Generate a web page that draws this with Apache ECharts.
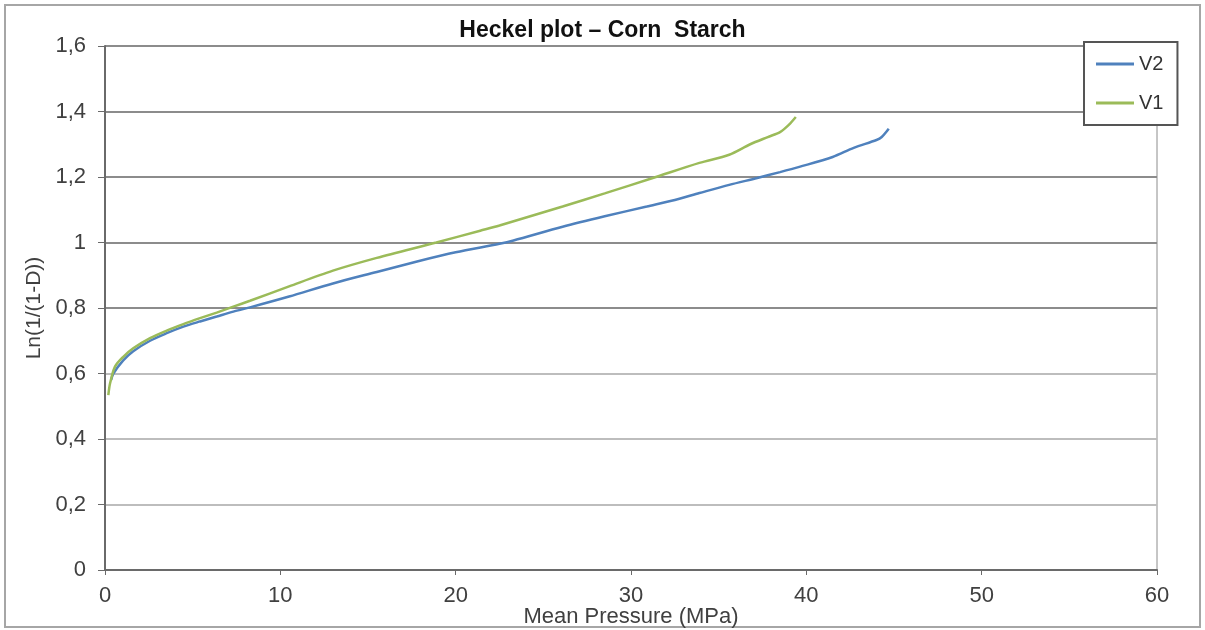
<!DOCTYPE html>
<html>
<head>
<meta charset="utf-8">
<script src="https://cdn.jsdelivr.net/npm/echarts@6/dist/echarts.min.js"></script>
<style>
  html, body { margin: 0; padding: 0; background: #fff; }
  #chart { width: 1205px; height: 630px; }
</style>
</head>
<body>
<div id="chart"></div>
<script>
// Mean pressure (MPa) / Ln(1/(1-D)) pairs
const v2Points = [
  [0.35, 0.58], [0.48, 0.60], [1.04, 0.64], [1.61, 0.668], [2.57, 0.700],
  [3.52, 0.723], [4.47, 0.743], [5.42, 0.759], [6.37, 0.774], [7.32, 0.789],
  [8.27, 0.802], [10.5, 0.835], [13.0, 0.875], [15.5, 0.910], [17.8, 0.942],
  [20.0, 0.970], [22.5, 0.996], [23.3, 1.006], [26.1, 1.048], [28.5, 1.080],
  [30.9, 1.110], [32.5, 1.130], [33.9, 1.151], [35.6, 1.176], [37.2, 1.197],
  [38.5, 1.215], [39.6, 1.231], [41.5, 1.261], [42.7, 1.289], [44.0, 1.313],
  [44.3, 1.322], [44.7, 1.347]
]
const v1Points = [
  [0.19, 0.534], [0.29, 0.57], [0.57, 0.621], [1.04, 0.651], [1.61, 0.677],
  [2.57, 0.708], [3.52, 0.731], [4.47, 0.751], [5.42, 0.769], [6.37, 0.786],
  [7.32, 0.804], [8.27, 0.822], [10.5, 0.866], [13.0, 0.914], [15.5, 0.953],
  [18.9, 1.0], [21.4, 1.036], [22.5, 1.052], [26.1, 1.110], [28.5, 1.150],
  [31.2, 1.196], [33.9, 1.243], [35.6, 1.268], [36.8, 1.300], [37.8, 1.322],
  [38.5, 1.337], [39.0, 1.359], [39.4, 1.383]
]
const seriesNames = ['V2', 'V1']
const seriesColors = ['#4f81bd', '#9bbb59']

// lower grid lines are lighter than the upper ones in the original
const gridColors = ['#bdbdbd', '#bdbdbd', '#bdbdbd', '#bdbdbd', '#8c8c8c', '#8c8c8c', '#8c8c8c', '#8c8c8c', '#8c8c8c']

function commaNum(v) {
  return Number.isInteger(v) ? String(v) : v.toFixed(1).replace('.', ',')
}

const chart = echarts.init(document.getElementById('chart'))
chart.setOption({
  animation: false,
  textStyle: { fontFamily: 'Liberation Sans, Arial, sans-serif' },
  title: {
    text: 'Heckel plot \u2013 Corn  Starch',
    left: 'center',
    top: 14,
    textStyle: { fontSize: 23, fontWeight: 'bold', color: '#111' }
  },
  graphic: [
    {
      type: 'rect',
      shape: { x: 5, y: 5, width: 1195, height: 622 },
      style: { fill: 'none', stroke: '#a6a6a6', lineWidth: 2 },
      silent: true,
      z: -1
    }
  ],
  legend: {
    orient: 'vertical',
    left: 1084,
    top: 42,
    padding: [12, 14, 12, 12],
    icon: 'rect',
    itemWidth: 38,
    itemHeight: 3,
    itemGap: 19,
    backgroundColor: '#fff',
    borderColor: '#555',
    borderWidth: 2,
    textStyle: { fontSize: 20, color: '#333', lineHeight: 20 },
    data: seriesNames
  },
  grid: {
    left: 105,
    right: 48,
    top: 46,
    bottom: 60,
    outerBoundsMode: 'none',
    show: true,
    borderColor: '#8c8c8c',
    borderWidth: 1
  },
  xAxis: {
    type: 'value',
    min: 0,
    max: 60,
    interval: 10,
    name: 'Mean Pressure (MPa)',
    nameLocation: 'middle',
    nameGap: 36,
    nameMoveOverlap: false,
    nameTextStyle: { fontSize: 22, color: '#404040' },
    axisLine: { lineStyle: { color: '#6a6a6a', width: 2 } },
    axisTick: { show: true, length: 5, lineStyle: { color: '#6a6a6a' } },
    axisLabel: { fontSize: 22, color: '#404040', margin: 15 },
    splitLine: { show: false }
  },
  yAxis: {
    type: 'value',
    min: 0,
    max: 1.6,
    interval: 0.2,
    name: 'Ln(1/(1-D))',
    nameLocation: 'middle',
    nameGap: 58,
    nameTextStyle: { fontSize: 21, color: '#404040' },
    axisLine: { show: true, lineStyle: { color: '#6a6a6a', width: 2 } },
    axisTick: { show: true, length: 7, lineStyle: { color: '#6a6a6a' } },
    axisLabel: { fontSize: 22, color: '#404040', margin: 19, formatter: commaNum },
    splitLine: { show: true, lineStyle: { color: gridColors, width: 2 } }
  },
  series: [
    {
      name: seriesNames[0],
      type: 'line',
      data: v2Points,
      symbol: 'none',
      smooth: 0.3,
      lineStyle: { color: seriesColors[0], width: 2.5 },
      itemStyle: { color: seriesColors[0] }
    },
    {
      name: seriesNames[1],
      type: 'line',
      data: v1Points,
      symbol: 'none',
      smooth: 0.3,
      lineStyle: { color: seriesColors[1], width: 2.5 },
      itemStyle: { color: seriesColors[1] }
    }
  ]
})
</script>
</body>
</html>
